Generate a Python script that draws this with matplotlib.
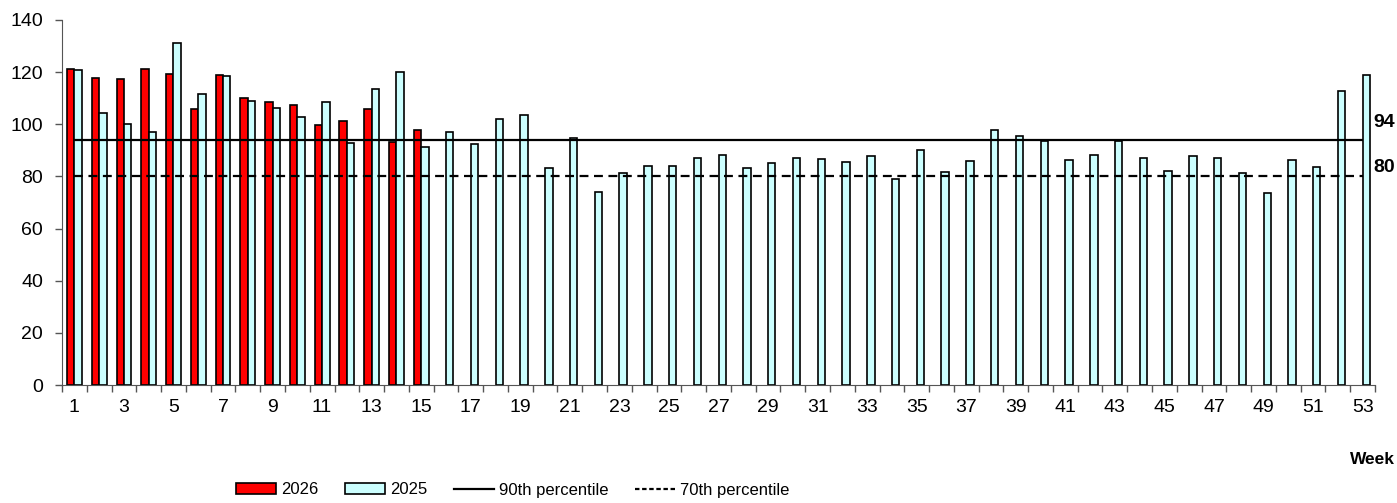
import numpy as np
import matplotlib
matplotlib.use('Agg')
import matplotlib.pyplot as plt
from matplotlib.patches import Patch
from matplotlib.lines import Line2D

plt.rcParams['font.family'] = ['Liberation Sans', 'DejaVu Sans']

weeks = list(range(1, 54))
y2026 = [121.1, 117.6, 117.3, 121.2, 119.3, 105.7, 119.0, 110.2, 108.6, 107.3,
         99.7, 101.3, 105.9, 93.2, 97.9]
y2025 = [121.0, 104.2, 100.2, 97.2, 131.3, 111.5, 118.6, 108.9, 106.4, 102.9,
         108.4, 92.9, 113.7, 120.1, 91.2, 97.0, 92.3, 102.2, 103.7, 83.2,
         94.7, 73.9, 81.2, 84.1, 84.1, 86.9, 88.2, 83.2, 85.0, 87.2,
         86.8, 85.5, 87.7, 79.1, 90.1, 81.7, 85.9, 97.8, 95.4, 93.7,
         86.3, 88.2, 93.5, 87.2, 82.2, 87.7, 87.2, 81.2, 73.8, 86.3,
         83.7, 112.9, 119.0]
p90 = 94
p70 = 80

fig = plt.figure(figsize=(13.97, 5.03), dpi=100)
ax = fig.add_axes([62/1397, 118/503, 1313/1397, 365/503])

w = 0.3
x26 = np.array(weeks[:len(y2026)])
x25 = np.array(weeks)
ax.bar(x26 - w/2, y2026, width=w, color='#ff0000', edgecolor='black', linewidth=1.2)
ax.bar(x25 + w/2, y2025, width=w, color='#ccffff', edgecolor='black', linewidth=1.2)

ax.hlines(p90, weeks[0], weeks[-1], colors='black', linewidth=1.6)
ax.hlines(p70, weeks[0], weeks[-1], colors='black', linewidth=1.6,
          linestyles=(0, (4, 2.5)))
ax.text(53.45, p90 + 6.5, str(p90), fontsize=14, fontweight='bold', va='center', ha='left')
ax.text(53.45, p70 + 3.6, str(p70), fontsize=14, fontweight='bold', va='center', ha='left')

ax.set_xlim(0.5, 53.5)
ax.set_ylim(0, 140)
ax.set_yticks(range(0, 141, 20))
ax.set_xticks(weeks[::2])
ax.set_xticks(np.arange(0.5, 54, 1), minor=True)
ax.tick_params(axis='x', which='major', length=0, labelsize=14, pad=10)
ax.tick_params(axis='x', which='minor', length=5, width=1, color='#555555')
ax.tick_params(axis='y', length=5, width=1, color='#555555', labelsize=14, pad=8.5)

for s in ['top', 'right']:
    ax.spines[s].set_visible(False)
for s in ['left', 'bottom']:
    ax.spines[s].set_color('#555555')

fig.text(1395/1397, 1 - 460/503, 'Week', fontsize=12.5, fontweight='bold',
         ha='right', va='center')

handles = [Patch(facecolor='#ff0000', edgecolor='black', linewidth=1.2),
           Patch(facecolor='#ccffff', edgecolor='black', linewidth=1.2),
           Line2D([], [], color='black', linewidth=1.6),
           Line2D([], [], color='black', linewidth=1.6, linestyle=(0, (2, 1.2)))]
labels = ['2026', '2025', '90th percentile', '70th percentile']
fig.legend(handles, labels, loc='center', bbox_to_anchor=(513/1397, 13/503),
           ncol=4, frameon=False, handlelength=2.4, fontsize=12,
           handleheight=0.65, handletextpad=0.3, columnspacing=1.6)

fig.savefig('out.png', dpi=100)
